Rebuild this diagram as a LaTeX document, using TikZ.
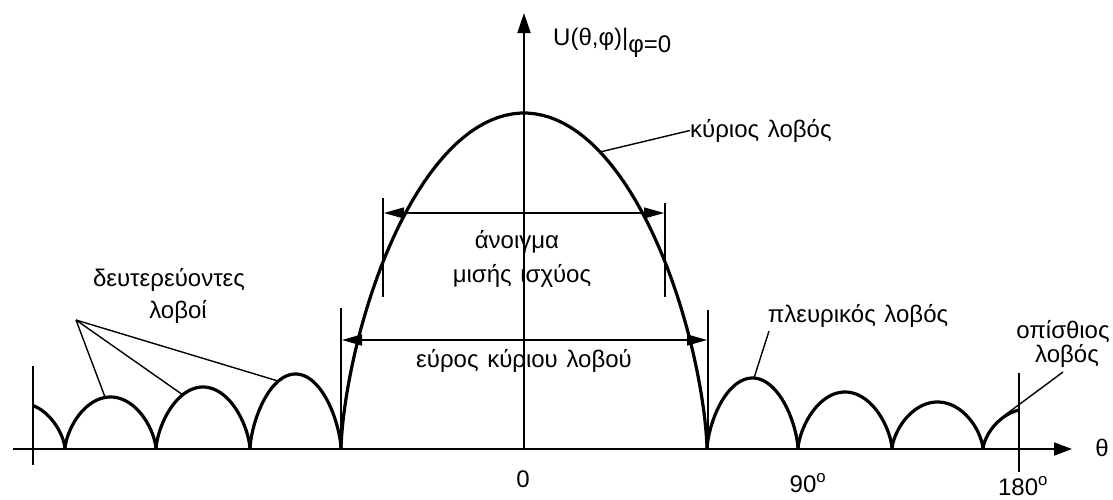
\documentclass[tikz,border=0pt]{standalone}
\usepackage{fontspec}
\setmainfont[WordSpace={1.3}]{Liberation Sans}
\usetikzlibrary{arrows.meta}
\newcommand\lobearc[5]{% centre, half width, height, t1, t2
  \draw[lobe] plot[domain=#4:#5, samples=80, variable=\t]
    ({#1+#2*sin(\t)},{449-#3*max(cos(\t),0.0001)^1.3});}
\begin{document}
\begin{tikzpicture}[x=1pt,y=-1pt,
  lobe/.style={line width=3.2pt, line join=round},
  axis/.style={line width=2pt},
  thinln/.style={line width=1.4pt},
  lbl/.style={font=\fontsize{24}{27}\selectfont, inner sep=0pt},
  dimarrow/.style={line width=1.4pt, {Triangle[length=20pt,width=11pt]}-{Triangle[length=20pt,width=11pt]}},
]
\useasboundingbox (0,0) rectangle (1113,499);
% axes
\draw[axis, -{Triangle[length=18pt,width=13pt]}] (13,449) -- (1072,449);
\draw[axis, -{Triangle[length=20pt,width=13pt]}] (524,449) -- (524,13);
% ticks
\draw[thinln] (33,366) -- (33,465);
\draw[thinln] (1019,373) -- (1019,472);
% main lobe
\lobearc{524}{183}{336}{-90}{90}
% left side lobes
\lobearc{20}{45}{46}{16.8}{90}
\lobearc{110.5}{45.5}{52}{-90}{90}
\lobearc{203}{47}{62}{-90}{90}
\lobearc{295.5}{45.5}{75}{-90}{90}
% right side lobes
\lobearc{752.5}{45.5}{71}{-90}{90}
\lobearc{845}{47}{57}{-90}{90}
\lobearc{937.5}{45.5}{47}{-90}{90}
\lobearc{1028}{45}{40}{-90}{-11.5}
% half power beamwidth
\draw[thinln] (383,198) -- (383,297);
\draw[thinln] (665,203) -- (665,297);
\coordinate (hpl) at (384,213);
\coordinate (hpr) at (664,213);
\draw[dimarrow] (hpl) -- (hpr);
% first null beamwidth
\draw[thinln] (341,308) -- (341,449);
\draw[thinln] (708,310) -- (708,449);
\coordinate (fnl) at (342,340);
\coordinate (fnr) at (707,340);
\draw[dimarrow] (fnl) -- (fnr);
% labels
\node[lbl, anchor=base west] (ulab) at (553,45) {U(θ,φ)|\raisebox{-7pt}{\fontsize{24}{24}\selectfont φ=0}};
\node[lbl, anchor=base west] (kl) at (690,137) {κύριος λοβός};
\node[lbl, anchor=base] (an1) at (517,248) {άνοιγμα};
\node[lbl, anchor=base] (an2) at (522,282) {μισής ισχύος};
\node[lbl, anchor=base] (eur) at (524,367) {εύρος κύριου λοβού};
\node[lbl, anchor=base] (dl1) at (169,286) {δευτερεύοντες};
\node[lbl, anchor=base] (dl2) at (178,318) {λοβοί};
\node[lbl, anchor=base] (pl) at (858,322) {πλευρικός λοβός};
\node[lbl, anchor=base] (op1) at (1063,338) {οπίσθιος};
\node[lbl, anchor=base] (op2) at (1067,362) {λοβός};
\node[lbl, anchor=base] (zero) at (523,487) {0};
\node[lbl, anchor=base] (n90) at (808,492) {90\textsuperscript{o}};
\node[lbl, anchor=base] (n180) at (1023,495) {180\textsuperscript{o}};
\node[lbl, anchor=base] (th) at (1102,456) {θ};
% leader lines
\coordinate (kpt) at (600,152);
\draw[thinln] (kpt) -- (kl.west);
\coordinate (dfan) at (76,320);
\coordinate (dp1) at (105,397);
\coordinate (dp2) at (183,395);
\coordinate (dp3) at (278,381);
\draw[thinln] (dfan) -- (dp1);
\draw[thinln] (dfan) -- (dp2);
\draw[thinln] (dfan) -- (dp3);
\coordinate (pls) at (769,331);
\coordinate (plp) at (754,378);
\draw[thinln] (pls) -- (plp);
\coordinate (ops) at (1063,372);
\coordinate (opp) at (1005,415);
\draw[thinln] (ops) -- (opp);
\end{tikzpicture}
\end{document}
